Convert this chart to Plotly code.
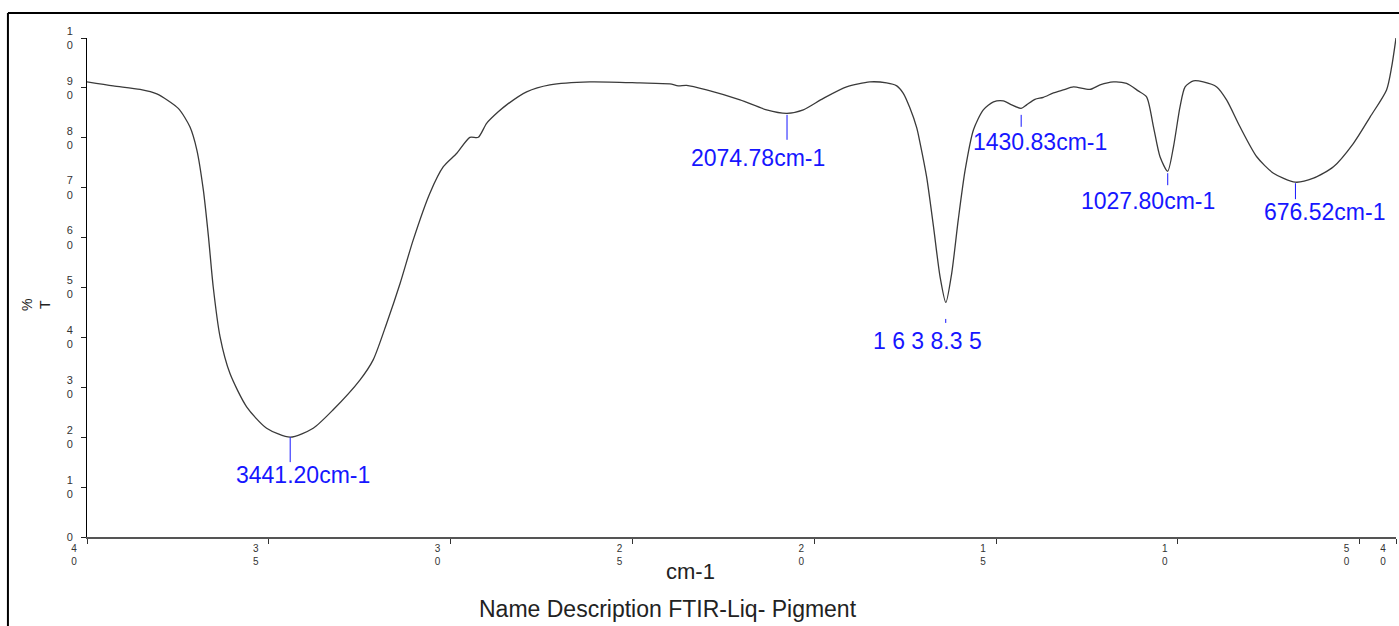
import plotly.graph_objects as go

# ---- data ----
wavenumber = [4000, 3928, 3854, 3808, 3749, 3717, 3698, 3680, 3666, 3653, 3634, 3607, 3561, 3506,
              3441, 3378, 3323, 3249, 3213, 3176, 3139, 3103, 3057, 3020, 2983, 2947, 2924, 2901,
              2869, 2846, 2791, 2727, 2617, 2479, 2397, 2374, 2351, 2296, 2204, 2131, 2075, 2030,
              1975, 1911, 1847, 1801, 1773, 1755, 1737, 1718, 1709, 1691, 1672, 1654, 1638, 1622,
              1604, 1585, 1562, 1535, 1507, 1480, 1457, 1431, 1416, 1393, 1370, 1342, 1315, 1287,
              1242, 1214, 1177, 1141, 1109, 1086, 1067, 1049, 1028, 1012, 994, 980, 957, 930, 893,
              866, 829, 783, 737, 677, 627, 572, 517, 471, 426, 412, 400]
transmittance = [91.2, 90.4, 89.7, 88.8, 85.9, 82.2, 77.6, 69.5, 60.2, 50.2, 40.1, 32.8, 26.1, 21.8,
                 20.0, 21.8, 25.5, 31.5, 35.5, 42.8, 50.8, 59.5, 68.9, 74.2, 76.9, 80.1, 80.1, 82.9,
                 85.2, 86.6, 89.2, 90.6, 91.2, 91.0, 90.8, 90.4, 90.5, 89.6, 87.6, 85.6, 84.9, 85.6,
                 87.9, 90.2, 91.2, 91.0, 90.4, 88.9, 86.0, 82.0, 79.0, 72.2, 62.2, 52.2, 47.0, 52.8,
                 63.5, 73.5, 81.6, 85.6, 87.2, 87.4, 86.6, 85.9, 86.6, 87.7, 88.1, 89.0, 89.6, 90.2,
                 89.7, 90.6, 91.2, 90.9, 89.4, 88.2, 82.2, 76.2, 73.3, 78.2, 86.2, 90.2, 91.4, 91.2, 90.2,
                 87.6, 82.2, 76.2, 72.9, 71.1, 71.9, 74.2, 78.9, 84.2, 89.6, 94.2, 100.0]

peak_wn = [3441.20, 2074.78, 1638.35, 1430.83, 1027.80, 676.52]
peak_text = ["3441.20cm-1", "2074.78cm-1", "1 6 3 8.3 5", "1430.83cm-1", "1027.80cm-1", "676.52cm-1"]

x_tickvals = [4000, 3500, 3000, 2500, 2000, 1500, 1000, 500, 400]
x_ticktext = ["4<br>0", "3<br>5", "3<br>0", "2<br>5", "2<br>0", "1<br>5", "1<br>0", "5<br>0", "4<br>0"]
y_tickvals = [0, 10, 20, 30, 40, 50, 60, 70, 80, 90, 100]
y_ticktext = ["0", "1<br>0", "2<br>0", "3<br>0", "4<br>0", "5<br>0", "6<br>0", "7<br>0", "8<br>0", "9<br>0", "1<br>0"]

# ---- styling / layout of peak labels (positions in axis units) ----
# (marker line top, marker line bottom, label x, label y)
peak_layout = [
    (20.0, 15.0, 3407, 12.4),
    (84.6, 79.6, 2155, 75.9),
    (43.7, 42.9, 1688, 39.3),
    (84.6, 82.2, 1380, 79.2),
    (72.9, 70.5, 1082, 67.3),
    (70.9, 67.7, 596, 65.1),
]

BLUE = "rgb(22,22,255)"
FONT = "Liberation Sans, Arial, sans-serif"

fig = go.Figure()
fig.add_trace(go.Scatter(
    x=wavenumber, y=transmittance, mode="lines",
    line=dict(color="#3a3a3a", width=1.3, shape="spline", smoothing=0.7),
    hoverinfo="x+y", showlegend=False, cliponaxis=False,
))

shapes = []
annotations = []
for wn, txt, (ytop, ybot, lx, ly) in zip(peak_wn, peak_text, peak_layout):
    shapes.append(dict(type="line", xref="x", yref="y", x0=wn, x1=wn, y0=ytop, y1=ybot,
                       line=dict(color=BLUE, width=1)))
    annotations.append(dict(x=lx, y=ly, xref="x", yref="y", text=txt, showarrow=False,
                            font=dict(family=FONT, size=23, color=BLUE),
                            xanchor="center", yanchor="middle"))

# frame lines (top and left)
shapes.append(dict(type="line", xref="paper", yref="paper", x0=-0.0604, x1=1.02, y0=1.0501, y1=1.0501,
                   line=dict(color="black", width=2)))
shapes.append(dict(type="line", xref="paper", yref="paper", x0=-0.0604, x1=-0.0604, y0=1.0501, y1=-0.25,
                   line=dict(color="black", width=2)))

annotations.append(dict(x=0.4607, y=-0.0701, xref="paper", yref="paper", text="cm-1", showarrow=False,
                        font=dict(family=FONT, size=22, color="#222"), xanchor="center", yanchor="middle"))
annotations.append(dict(x=0.4439, y=-0.1443, xref="paper", yref="paper",
                        text="Name Description FTIR-Liq- Pigment", showarrow=False,
                        font=dict(family=FONT, size=23, color="#222"), xanchor="center", yanchor="middle"))
annotations.append(dict(x=-0.039, y=0.465, xref="paper", yref="paper", text="%<br>T", showarrow=False,
                        textangle=-90, font=dict(family=FONT, size=14, color="#222"),
                        xanchor="center", yanchor="middle"))

fig.update_layout(
    width=1399, height=626,
    margin=dict(l=87, r=3, t=38, b=89, autoexpand=False),
    paper_bgcolor="white", plot_bgcolor="white",
    shapes=shapes, annotations=annotations,
    font=dict(family=FONT),
    xaxis=dict(range=[4000, 400], tickvals=x_tickvals, ticktext=x_ticktext, automargin=False,
               showgrid=False, zeroline=False, showline=True, linecolor="#555", linewidth=1.5,
               ticks="outside", ticklen=5, tickcolor="#333", tickwidth=1,
               tickfont=dict(family=FONT, size=10, color="#333"), ticklabelshift=13,
               ticklabelstandoff=-4),
    yaxis=dict(range=[0, 100], tickvals=y_tickvals, ticktext=y_ticktext, automargin=False,
               showgrid=False, zeroline=False, showline=True, linecolor="black", linewidth=1,
               ticks="outside", ticklen=5, tickcolor="#222", tickwidth=1,
               tickfont=dict(family=FONT, size=11, color="#333"), ticklabelstandoff=6),
)

fig.write_html(
    "out.html",
    config=dict(displayModeBar=False),
    post_script="document.body.style.margin='0';document.body.style.overflow='hidden';",
)
